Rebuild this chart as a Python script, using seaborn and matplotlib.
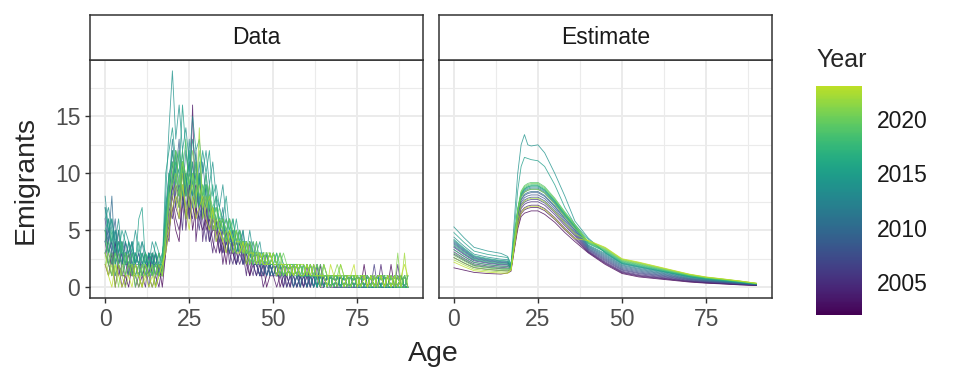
import numpy as np
import pandas as pd
import matplotlib
matplotlib.use("Agg")
import matplotlib.pyplot as plt
from matplotlib.colors import ListedColormap
import seaborn as sns

sns.set_style("white")
plt.rcParams['font.family'] = ['Liberation Sans', 'DejaVu Sans']

years = list(range(2002, 2024))

# observed emigrants by single year of age 0..90, one row per year
data_rows = [
    "2 1 3 0 2 1 1 0 2 1  0 1 2 1 0 1 2 0 3 5  7 5 4 8 6 9 5 7 6 5  6 4 5 5 3 4 2 5 3 2  3 4 2 1 3 2 1 2 0 1  1 2 0 1 1 0 2 1 0 1  0 1 1 0 2 0 1 0 0 1  0 0 1 0 1 0 0 2 0 1  0 0 1 0 0 2 0 0 1 0  0",
    "3 2 1 4 2 0 1 3 1 2  1 0 2 1 3 1 0 2 4 6  8 6 5 7 9 6 16 4 7 8  5 6 4 3 5 2 4 3 3 2  4 2 3 1 2 1 2 0 1 2  1 0 1 2 0 1 1 0 1 0  2 0 1 1 0 0 1 0 1 0  0 1 0 0 1 0 1 0 0 0  1 0 0 1 0 0 0 1 0 0  0",
    "4 2 3 1 2 3 0 2 1 1  2 1 0 3 1 2 1 1 5 4  9 7 6 11 5 8 7 6 10 4  7 5 3 6 4 3 5 2 4 3  2 3 1 4 2 2 1 1 3 1  2 1 1 0 2 1 0 1 1 0  1 1 0 2 0 1 0 1 0 0  1 0 0 1 0 0 1 0 1 0  0 0 2 0 1 0 0 0 1 0  0",
    "5 3 2 4 1 2 3 1 2 0  1 2 3 1 2 0 2 1 3 7  6 9 8 5 10 7 6 9 8 6  4 7 5 6 3 5 4 3 2 4  3 2 4 2 1 3 2 1 2 2  1 1 2 0 1 2 1 0 1 1  0 2 1 0 1 0 1 1 0 0  1 0 1 0 0 1 0 0 1 0  0 1 0 0 0 1 0 2 0 0  0",
    "3 4 2 3 5 1 2 2 1 3  2 1 2 0 2 3 1 2 6 5  10 8 7 9 6 8 11 7 5 8  7 4 6 5 6 3 4 5 3 3  4 3 2 3 2 1 3 2 1 2  2 1 1 2 1 0 1 2 0 1  1 0 1 1 0 1 0 0 1 1  0 1 0 0 1 0 0 1 0 0  2 0 0 1 0 0 1 0 0 1  0",
    "6 3 4 2 3 2 4 1 3 2  1 2 1 3 2 1 2 1 4 8  11 7 9 8 10 6 8 9 7 6  8 5 7 4 5 6 3 4 5 2  3 4 2 3 3 2 1 2 2 1  2 1 2 1 0 1 2 1 1 0  1 1 0 1 1 0 1 0 1 0  1 0 0 1 0 1 0 0 0 1  0 1 0 0 1 0 0 0 1 0  0",
    "4 5 3 3 2 4 2 3 1 2  3 1 2 2 1 3 1 2 5 7  9 12 8 10 7 9 8 11 6 7  6 8 5 6 4 5 5 3 4 3  4 2 3 3 2 2 1 3 1 2  1 2 1 1 2 1 0 1 2 1  0 1 1 0 1 1 0 1 0 1  0 1 1 0 0 1 0 1 0 0  1 0 0 1 0 0 0 1 0 0  1",
    "5 3 4 6 2 3 3 2 4 2  1 3 2 1 3 2 2 1 6 9  8 10 13 7 9 11 8 7 10 6  9 6 7 5 6 4 5 4 3 5  3 4 3 2 3 2 2 1 2 3  2 1 1 2 1 2 1 0 1 1  1 0 2 1 0 1 1 0 1 0  0 1 0 1 0 0 1 0 1 0  0 0 1 0 1 0 0 1 0 0  0",
    "7 4 8 2 4 3 2 4 2 3  2 2 3 1 2 2 3 2 4 8  12 9 7 11 8 10 9 12 7 8  7 9 5 6 5 6 4 3 5 4  3 5 2 3 4 2 3 2 1 2  2 1 2 1 1 2 0 1 1 2  1 1 0 1 1 0 1 1 0 1  0 0 1 0 1 0 1 0 0 1  0 1 0 0 0 1 0 0 1 0  0",
    "4 6 3 5 3 2 4 3 2 2  3 2 1 3 2 3 1 2 7 10  9 11 10 8 12 9 10 8 7 11  8 6 7 6 5 7 4 5 3 4  5 3 3 4 2 3 2 3 2 2  1 2 2 1 2 1 1 2 1 1  0 1 1 2 0 1 1 0 1 1  0 1 0 1 0 1 0 0 1 0  1 0 0 1 0 0 1 0 0 1  0",
    "5 4 6 3 4 2 3 3 4 2  2 3 2 2 3 1 2 3 5 9  13 10 8 12 9 11 7 10 9 8  10 7 6 8 5 5 6 4 4 3  4 3 4 2 3 3 2 2 3 1  2 2 1 2 1 2 1 1 0 2  1 1 1 0 1 1 0 1 1 0  1 0 1 0 1 0 0 1 0 1  0 0 1 0 0 1 0 1 0 0  1",
    "8 5 4 5 3 4 3 2 3 3  2 4 2 3 2 2 3 1 6 10  11 9 12 10 8 13 9 8 11 7  9 8 6 7 6 5 5 6 4 3  5 3 4 3 2 4 2 3 2 2  3 2 2 1 2 1 2 1 1 1  2 1 0 1 1 1 0 1 1 0  1 1 0 0 1 0 1 0 1 0  0 1 0 1 0 0 1 0 0 1  0",
    "6 7 5 4 6 3 5 4 3 5  3 4 3 2 4 3 2 2 8 14  19 13 16 12 14 11 15 12 13 10  12 9 11 8 7 9 6 5 6 4  5 4 3 5 3 3 4 2 3 2  3 2 3 2 1 2 2 1 2 1  1 2 1 1 0 2 1 1 0 1  1 0 1 1 0 1 0 1 0 1  0 1 0 0 1 0 1 0 0 1  0",
    "7 5 6 4 3 5 4 3 4 2  6 7 2 3 2 4 3 2 10 12  14 11 10 16 12 10 13 11 9 12  10 12 8 9 7 6 8 5 4 6  4 5 3 4 3 2 3 3 2 3  2 3 1 2 2 1 2 2 1 1  2 1 1 0 1 1 1 0 1 1  0 1 1 0 1 0 0 1 1 0  0 1 0 1 0 0 1 0 1 0  0",
    "5 6 4 3 5 3 2 4 3 2  4 2 3 2 1 3 2 2 7 9  12 10 8 11 9 12 8 10 7 9  8 7 9 5 6 6 4 5 5 3  4 4 3 3 2 3 3 2 2 3  2 1 2 2 1 2 1 2 1 1  1 1 2 0 1 1 0 1 1 1  0 1 0 1 1 0 1 0 0 1  0 1 1 0 0 1 0 0 1 0  1",
    "4 3 5 2 4 3 3 1 2 3  2 3 1 2 3 2 1 3 5 10  9 12 11 8 10 9 11 7 10 8  9 6 7 8 5 6 5 4 6 4  3 4 4 2 3 3 2 3 2 2  3 2 1 2 2 1 2 1 2 1  1 2 1 1 1 0 1 1 0 1  1 0 1 0 1 1 0 1 0 0  1 0 1 0 1 0 0 1 0 0  0",
    "3 4 2 3 2 4 1 2 3 1  2 1 3 2 1 2 2 1 6 8  10 11 9 12 8 10 9 11 8 7  10 7 6 7 6 5 4 6 4 5  4 3 3 4 3 2 3 2 3 2  2 3 2 1 2 2 1 2 1 2  1 1 1 2 1 1 0 1 1 1  0 1 1 0 1 0 1 1 0 1  0 0 1 1 0 1 0 0 1 0  0",
    "5 2 3 1 3 2 2 3 1 2  1 2 2 1 2 1 3 2 4 9  11 9 12 10 13 8 10 9 12 8  9 8 7 6 7 5 6 5 4 5  4 4 3 3 4 3 2 3 2 3  2 2 3 2 1 2 2 1 2 1  2 1 1 1 2 1 1 0 1 1  1 0 1 1 0 1 1 0 1 0  1 0 0 1 1 0 1 0 0 1  1",
    "3 2 1 3 2 1 3 2 2 0  2 1 1 2 1 2 1 2 5 7  10 12 9 11 10 9 12 10 8 9  7 9 6 7 5 6 5 6 5 4  5 3 4 3 3 4 2 3 3 2  3 2 2 3 2 1 2 2 1 2  1 2 1 1 1 2 1 1 0 1  2 1 0 1 1 0 1 1 0 1  0 1 1 0 1 0 1 1 0 0  1",
    "2 3 1 2 0 2 1 2 1 1  0 2 1 1 2 0 1 1 4 8  9 10 8 11 9 7 10 8 9 7  8 6 7 5 6 5 4 5 4 5  3 4 3 4 2 3 3 2 3 3  2 2 3 1 2 2 1 2 2 1  2 1 1 2 1 1 1 0 1 2  1 1 0 1 1 1 0 1 1 0  1 0 1 1 0 1 0 3 0 1  0",
    "3 1 2 0 2 1 0 1 2 1  1 0 2 1 0 1 2 1 4 6  8 9 7 10 6 8 9 7 14 6  7 8 5 6 5 4 5 4 3 4  4 3 4 2 3 3 2 3 2 2  3 2 1 2 2 1 2 1 2 2  1 2 1 1 0 2 1 1 1 0  2 1 1 0 1 1 0 1 0 1  1 0 1 0 1 1 0 1 0 3  0",
    "2 1 0 2 1 0 1 1 0 2  1 0 1 0 1 0 1 2 3 5  7 8 6 9 7 5 8 6 7 8  6 5 7 4 5 4 3 5 4 3  3 4 2 3 3 2 3 2 2 3  2 1 2 2 1 2 1 2 1 1  2 1 2 1 1 1 0 2 1 1  1 0 1 1 2 0 1 1 0 1  0 1 1 0 1 0 1 0 1 2  1",
]

# model estimate, read at these ages
est_ages = [0, 3, 6, 10, 14, 16, 17, 18, 19, 20, 21, 22, 23, 25, 27, 30, 33, 36,
            40, 45, 50, 55, 60, 65, 70, 75, 80, 85, 90]
est_rows = [
    [1.7, 1.5, 1.3, 1.2, 1.15, 1.25, 1.4, 3.3, 5.1, 6.2, 6.5, 6.6, 6.7, 6.7, 6.4, 5.7, 4.8, 4.0, 3.0, 2.0, 1.2, 0.9, 0.75, 0.6, 0.45, 0.35, 0.28, 0.2, 0.15],
    [2.6, 2.13, 1.72, 1.56, 1.46, 1.43, 1.55, 3.46, 5.37, 6.45, 6.79, 6.93, 7.0, 7.0, 6.72, 5.95, 5.04, 4.2, 3.06, 2.08, 1.27, 0.97, 0.81, 0.65, 0.49, 0.38, 0.3, 0.22, 0.16],
    [2.9, 2.38, 1.91, 1.74, 1.62, 1.6, 1.6, 3.56, 5.52, 6.64, 6.98, 7.13, 7.2, 7.2, 6.91, 6.12, 5.18, 4.32, 3.11, 2.15, 1.33, 1.03, 0.86, 0.69, 0.52, 0.41, 0.33, 0.24, 0.17],
    [3.1, 2.54, 2.05, 1.86, 1.74, 1.7, 1.64, 3.69, 5.74, 6.91, 7.28, 7.43, 7.5, 7.5, 7.2, 6.38, 5.4, 4.5, 3.17, 2.23, 1.4, 1.1, 0.92, 0.74, 0.56, 0.43, 0.35, 0.25, 0.18],
    [3.3, 2.71, 2.18, 1.98, 1.85, 1.82, 1.67, 3.78, 5.89, 7.1, 7.47, 7.62, 7.7, 7.7, 7.39, 6.55, 5.54, 4.62, 3.24, 2.33, 1.49, 1.19, 0.99, 0.8, 0.6, 0.47, 0.38, 0.28, 0.19],
    [3.5, 2.87, 2.31, 2.1, 1.96, 1.93, 1.71, 3.88, 6.04, 7.28, 7.66, 7.82, 7.9, 7.9, 7.58, 6.72, 5.69, 4.74, 3.31, 2.42, 1.56, 1.26, 1.06, 0.85, 0.65, 0.5, 0.41, 0.3, 0.21],
    [3.6, 2.95, 2.38, 2.16, 2.02, 1.98, 1.72, 3.95, 6.19, 7.46, 7.86, 8.02, 8.1, 8.1, 7.78, 6.89, 5.83, 4.86, 3.37, 2.51, 1.64, 1.34, 1.12, 0.91, 0.69, 0.54, 0.43, 0.32, 0.22],
    [3.8, 3.12, 2.51, 2.28, 2.13, 2.09, 1.76, 4.05, 6.34, 7.65, 8.05, 8.22, 8.3, 8.3, 7.97, 7.06, 5.98, 4.98, 3.44, 2.6, 1.72, 1.42, 1.19, 0.96, 0.73, 0.57, 0.46, 0.34, 0.23],
    [3.9, 3.2, 2.57, 2.34, 2.18, 2.15, 1.77, 4.09, 6.41, 7.74, 8.15, 8.32, 8.4, 8.4, 8.06, 7.14, 6.05, 5.04, 3.51, 2.69, 1.8, 1.5, 1.26, 1.01, 0.77, 0.6, 0.49, 0.36, 0.24],
    [4.0, 3.28, 2.64, 2.4, 2.24, 2.2, 1.79, 4.17, 6.56, 7.92, 8.34, 8.51, 8.6, 8.6, 8.26, 7.31, 6.19, 5.16, 3.57, 2.78, 1.88, 1.58, 1.32, 1.07, 0.81, 0.64, 0.51, 0.38, 0.25],
    [4.1, 3.36, 2.71, 2.46, 2.3, 2.26, 1.81, 4.22, 6.63, 8.01, 8.44, 8.61, 8.7, 8.7, 8.35, 7.4, 6.26, 5.22, 3.64, 2.87, 1.95, 1.65, 1.39, 1.12, 0.86, 0.67, 0.54, 0.4, 0.27],
    [4.4, 3.61, 2.9, 2.64, 2.46, 2.42, 1.86, 4.29, 6.72, 8.11, 8.54, 8.71, 8.8, 8.8, 8.45, 7.48, 6.34, 5.28, 3.7, 2.96, 2.03, 1.73, 1.45, 1.18, 0.9, 0.7, 0.57, 0.42, 0.28],
    [5.3, 4.35, 3.5, 3.18, 2.97, 2.7, 2.0, 6.0, 10.0, 12.5, 13.4, 12.5, 12.4, 12.5, 11.8, 10.0, 8.0, 5.8, 4.3, 3.02, 2.08, 1.78, 1.5, 1.21, 0.93, 0.72, 0.59, 0.44, 0.29],
    [4.8, 3.94, 3.17, 2.88, 2.69, 2.6, 1.92, 5.0, 8.5, 10.6, 11.4, 11.3, 11.2, 11.1, 10.6, 9.0, 7.0, 5.5, 4.2, 3.05, 2.11, 1.81, 1.52, 1.23, 0.94, 0.74, 0.6, 0.45, 0.29],
    [4.2, 3.44, 2.77, 2.52, 2.35, 2.31, 1.82, 4.3, 6.78, 8.19, 8.63, 8.81, 8.9, 8.9, 8.54, 7.57, 6.41, 5.34, 3.81, 3.11, 2.16, 1.86, 1.56, 1.27, 0.97, 0.76, 0.61, 0.46, 0.3],
    [3.7, 3.03, 2.44, 2.22, 2.07, 2.04, 1.74, 4.25, 6.75, 8.18, 8.63, 8.81, 8.9, 8.9, 8.54, 7.57, 6.41, 5.34, 3.86, 3.17, 2.21, 1.91, 1.61, 1.3, 1.0, 0.78, 0.63, 0.47, 0.31],
    [3.3, 2.71, 2.18, 1.98, 1.85, 1.82, 1.67, 4.24, 6.8, 8.27, 8.73, 8.91, 9.0, 9.0, 8.64, 7.65, 6.48, 5.4, 3.9, 3.23, 2.27, 1.97, 1.65, 1.34, 1.02, 0.8, 0.65, 0.49, 0.31],
    [3.0, 2.46, 1.98, 1.8, 1.68, 1.65, 1.62, 4.27, 6.93, 8.44, 8.92, 9.11, 9.2, 9.2, 8.83, 7.82, 6.62, 5.52, 3.95, 3.29, 2.32, 2.02, 1.7, 1.37, 1.05, 0.82, 0.67, 0.5, 0.32],
    [2.8, 2.3, 1.85, 1.68, 1.57, 1.54, 1.58, 4.21, 6.84, 8.35, 8.83, 9.01, 9.1, 9.1, 8.74, 7.74, 6.55, 5.46, 3.99, 3.35, 2.37, 2.07, 1.74, 1.41, 1.08, 0.85, 0.69, 0.52, 0.33],
    [2.6, 2.13, 1.72, 1.56, 1.46, 1.43, 1.55, 4.02, 6.49, 7.9, 8.34, 8.51, 8.6, 8.6, 8.26, 7.31, 6.19, 5.16, 4.03, 3.41, 2.42, 2.12, 1.78, 1.45, 1.11, 0.87, 0.7, 0.53, 0.34],
    [2.4, 1.97, 1.58, 1.44, 1.34, 1.32, 1.52, 3.72, 5.92, 7.17, 7.57, 7.72, 7.8, 7.8, 7.49, 6.63, 5.62, 4.68, 4.07, 3.46, 2.46, 2.16, 1.82, 1.47, 1.13, 0.88, 0.72, 0.54, 0.34],
    [2.2, 1.8, 1.45, 1.32, 1.23, 1.21, 1.49, 3.45, 5.42, 6.54, 6.89, 7.03, 7.1, 7.1, 6.82, 6.04, 5.11, 4.26, 4.1, 3.5, 2.5, 2.2, 1.85, 1.5, 1.15, 0.9, 0.73, 0.55, 0.35],
]

# long tables for seaborn
recs = []
for yr, row in zip(years, data_rows):
    vals = [int(v) for v in row.split()]
    for age, v in enumerate(vals):
        recs.append((yr, age, v))
df_data = pd.DataFrame(recs, columns=["Year", "Age", "Emigrants"])

recs = []
for yr, row in zip(years, est_rows):
    for age, v in zip(est_ages, row):
        recs.append((yr, age, v))
df_est = pd.DataFrame(recs, columns=["Year", "Age", "Emigrants"])

# viridis stopped short of the yellow end, as in the reference
cmap = ListedColormap(plt.get_cmap("viridis")(np.linspace(0, 0.9, 256)))

W, H = 959, 384
fig = plt.figure(figsize=(W / 100, H / 100), dpi=100)

def box(x0, y0, x1, y1):
    return [x0 / W, 1 - y1 / H, (x1 - x0) / W, (y1 - y0) / H]

border = "#333333"
norm = (years[0], years[-1])

panels = [("Data", df_data, 90), ("Estimate", df_est, 438.7)]
for i, (title, d, x0) in enumerate(panels):
    ax = fig.add_axes(box(x0, 60, x0 + 333, 298))
    sns.lineplot(data=d, x="Age", y="Emigrants", hue="Year", palette=cmap,
                 hue_norm=norm, estimator=None, legend=False, lw=0.6, alpha=0.8, ax=ax)
    ax.set_xlim(-4.5, 94.5)
    ax.set_ylim(-0.95, 19.95)
    ax.set_xticks([0, 25, 50, 75])
    ax.set_xticks([12.5, 37.5, 62.5, 87.5], minor=True)
    ax.set_yticks([0, 5, 10, 15])
    ax.set_yticks([2.5, 7.5, 12.5, 17.5], minor=True)
    ax.set_axisbelow(True)
    ax.grid(which="major", color="#EBEBEB", lw=1.4)
    ax.grid(which="minor", color="#EBEBEB", lw=0.8)
    ax.set_xlabel("")
    ax.set_ylabel("")
    for s in ax.spines.values():
        s.set_color(border)
        s.set_linewidth(1.1)
    ax.tick_params(which="major", labelsize=16.5, labelcolor="#4D4D4D", color=border,
                   length=3.5, width=1, bottom=True, left=(i == 0), labelleft=(i == 0))
    ax.tick_params(which="minor", length=0)

    sx = fig.add_axes(box(x0, 15, x0 + 333, 60))
    sx.set_facecolor("white")
    sx.set_xticks([])
    sx.set_yticks([])
    for s in sx.spines.values():
        s.set_color(border)
        s.set_linewidth(1.1)
    sx.text(0.5, 0.5, title, ha="center", va="center", fontsize=16.5, color="#1A1A1A",
            transform=sx.transAxes)

# colour bar
cax = fig.add_axes(box(816, 86, 862, 315))
sm = plt.cm.ScalarMappable(cmap=cmap, norm=plt.Normalize(*norm))
cb = fig.colorbar(sm, cax=cax, ticks=[2005, 2010, 2015, 2020])
cb.outline.set_visible(False)
cax.yaxis.set_ticks_position("both")
cax.tick_params(direction="in", length=6.5, width=0.8, color="white",
                labelsize=16.5, labelcolor="#1A1A1A", pad=11, labelleft=False, labelright=True)

fig.text(816 / W, 1 - 67 / H, "Year", fontsize=18, ha="left", va="baseline")
fig.text(26 / W, 1 - 180 / H, "Emigrants", fontsize=20.5, rotation=90, ha="center", va="center")
fig.text(433 / W, 1 - 354 / H, "Age", fontsize=20.5, ha="center", va="center")

fig.savefig("out.png", dpi=100)
